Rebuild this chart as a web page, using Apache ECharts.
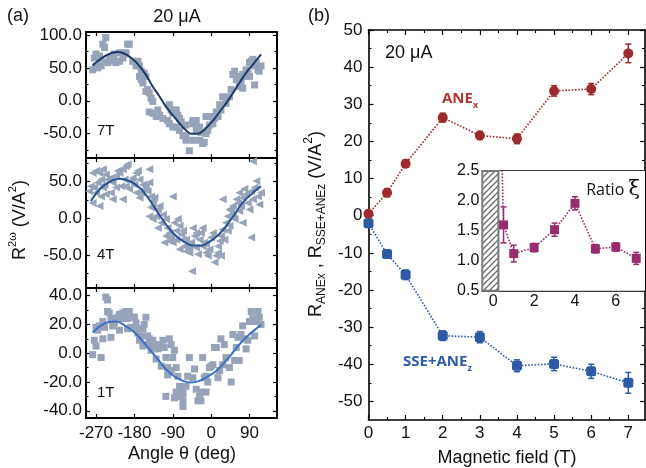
<!DOCTYPE html>
<html>
<head>
<meta charset="utf-8">
<script src="https://cdn.jsdelivr.net/npm/echarts@6/dist/echarts.min.js"></script>
<style>
  html, body { margin: 0; padding: 0; background: #fff; }
  #main { width: 646px; height: 468px; }
</style>
</head>
<body>
<div id="main"></div>
<script>
// ---- panel (a): angle scans ----
var angleTicks = [-270, -180, -90, 0, 90];
var ticks7T = [-50, 0, 50, 100], minor7T = [-75, -25, 25, 75];
var ticks4T = [-50, 0, 50], minor4T = [-75, -25, 25, 75];
var ticks1T = [-40, -20, 0, 20, 40], minor1T = [-30, -10, 10, 30];

var pts7T = [[-247,96],[-254,86],[-250,81],[-270,71],[-274,65],[-262,68],[-258,63],[-239,65],[-235,60],[-231,63],[-223,58],[-215,60],[-207,65],[-200,71],[-196,86],[-192,86],[-200,73],[-184,60],[-176,58],[-172,60],[-168,53],[-270,53],[-266,50],[-258,53],[-243,58],[-227,71],[-215,73],[-278,47],[-176,53],[-164,45],[-157,42],[-153,37],[-168,37],[-164,32],[-160,27],[-149,17],[-145,12],[-153,14],[-141,4],[-137,-1],[-145,-17],[-137,-19],[-129,-24],[-121,-22],[-125,-14],[-113,-27],[-102,-30],[-98,-6],[-94,-14],[-90,-19],[-82,-14],[-78,-22],[-74,-27],[-70,-32],[-98,-35],[-90,-40],[-82,-40],[-74,-45],[-66,-53],[-59,-55],[-59,-60],[-51,-76],[-43,-60],[-35,-45],[-43,-35],[-35,-30],[-27,-40],[-24,-48],[-20,-65],[-16,-63],[-12,-50],[-8,-45],[-4,-37],[0,-24],[4,-35],[8,-27],[12,-17],[16,-24],[20,-6],[23,-14],[27,6],[35,-4],[43,6],[47,17],[51,40],[55,45],[59,32],[63,37],[66,22],[70,29],[74,40],[78,37],[82,47],[86,42],[90,58],[94,60],[98,63],[102,53],[102,24],[106,58],[110,47],[113,45],[117,53],[90,37],[74,19],[-27,-60],[-12,-24],[-59,-37],[-43,-30]];
var fit7T = [[-278,53.6],[-246,69],[-219,74],[-196,69],[-176,58.7],[-156,42.3],[-137,21.8],[-121,6.4],[-106,-9],[-90,-21.8],[-74,-34.6],[-59,-44.9],[-47,-50],[-31,-50],[-16,-43.9],[4,-30.5],[20,-16.7],[35,-3.9],[51,11.5],[66,26.9],[82,42.3],[98,55.1],[117,70.5]];

var pts4T = [[-278,62],[-270,65],[-262,62],[-254,67],[-247,60],[-258,53],[-266,49],[-282,44],[-274,42],[-286,37],[-270,35],[-254,42],[-250,46],[-243,53],[-235,55],[-231,49],[-223,58],[-219,65],[-215,62],[-207,67],[-200,71],[-196,74],[-203,53],[-211,44],[-223,42],[-200,44],[-188,51],[-184,55],[-180,46],[-176,62],[-172,65],[-168,53],[-160,46],[-157,40],[-153,44],[-149,37],[-145,49],[-164,35],[-207,26],[-235,35],[-258,30],[-262,17],[-278,21],[-231,26],[-247,33],[-192,40],[-176,35],[-141,30],[-137,24],[-141,15],[-145,3],[-137,-1],[-129,3],[-125,12],[-121,17],[-133,28],[-117,-6],[-125,-13],[-113,5],[-106,-1],[-102,-13],[-98,-20],[-106,-24],[-94,-26],[-90,-33],[-82,-17],[-86,-6],[-78,-1],[-90,30],[-74,-10],[-70,-22],[-66,-29],[-63,-38],[-59,-45],[-55,-40],[-51,-47],[-47,-33],[-43,-13],[-39,-24],[-35,-40],[-31,-49],[-27,-29],[-24,-20],[-20,-13],[-16,-33],[-12,-47],[-8,-51],[-4,-42],[0,-26],[4,-20],[8,-60],[12,-51],[16,-38],[20,-31],[23,-24],[27,-15],[31,-29],[35,-6],[39,3],[43,-10],[47,10],[51,17],[55,-1],[59,26],[63,21],[66,35],[70,17],[74,28],[78,40],[82,33],[86,21],[90,12],[94,37],[98,26],[102,42],[106,51],[110,30],[113,19],[117,35],[98,78],[94,-26],[-45,-72],[-66,-17],[-82,-29],[-98,-31],[-59,-29],[-35,-20],[-20,-38],[16,-47],[23,-51],[39,-17],[51,5],[66,10],[27,26],[74,-6],[43,12],[-168,28],[-137,17],[-110,-33],[-74,-42],[-51,-38],[-12,-35],[-145,67]];
var fit4T = [[-282,23.6],[-262,39.5],[-239,49.5],[-215,54],[-192,51],[-168,42],[-145,26],[-125,7.7],[-106,-8],[-86,-22],[-66,-31],[-43,-37],[-23,-37],[-4,-32],[16,-23],[35,-10.5],[55,5.5],[74,21.4],[98,35],[117,44]];

var pts1T = [[-247,39],[-243,37],[-239,28],[-235,24],[-254,22],[-262,19],[-270,18],[-266,16],[-274,9],[-270,5],[-278,-1],[-258,-3],[-254,10],[-235,11],[-231,19],[-227,21],[-223,24],[-215,27],[-219,25],[-211,24],[-207,28],[-203,26],[-200,29],[-196,24],[-192,29],[-188,18],[-184,25],[-180,25],[-176,21],[-172,14],[-168,9],[-164,12],[-160,17],[-157,20],[-153,25],[-149,6],[-145,10],[-141,2],[-137,9],[-133,5],[-125,3],[-121,6],[-113,9],[-110,4],[-106,-3],[-102,-10],[-98,10],[-94,6],[-90,-3],[-86,2],[-82,-10],[-78,-16],[-74,-23],[-70,-25],[-82,-27],[-86,-31],[-78,-30],[-74,-30],[-66,-28],[-59,-23],[-55,-16],[-51,-3],[-43,-17],[-39,-11],[-35,-25],[-31,-33],[-27,-30],[-24,-33],[-20,-3],[-16,-17],[-12,-16],[-8,-20],[-4,-10],[0,-9],[4,-8],[8,4],[12,4],[16,-17],[20,-12],[23,10],[27,-8],[31,6],[35,-3],[43,-10],[47,-20],[51,13],[55,-5],[59,4],[63,11],[66,-5],[70,13],[74,19],[78,10],[82,3],[86,9],[90,22],[94,29],[98,24],[102,12],[106,22],[110,29],[113,25],[117,20],[-66,-33],[-106,-30],[-129,-4],[-117,-9],[-12,-27],[-24,-27],[-102,-15],[-94,-12],[-149,12],[-160,5],[-176,17],[-196,17],[-215,16],[-243,29],[-250,18],[-66,-37]];
var fit1T = [[-278,14.3],[-258,19.4],[-239,21.7],[-223,22],[-203,19.4],[-184,15.5],[-164,9.7],[-145,2.8],[-125,-4.2],[-106,-11.1],[-86,-16.2],[-66,-19.2],[-47,-20.3],[-27,-19.2],[-8,-16.2],[12,-12.3],[31,-6.5],[51,0.5],[70,7.4],[90,13.2],[106,17.1],[117,19.6]];

// ---- panel (b): field dependence ----
var fieldT = [0, 0.5, 1, 2, 3, 4, 5, 6, 7];
var aneX = [0.5, 6.2, 14.0, 26.4, 21.6, 20.7, 33.6, 34.1, 43.7];
var aneXErr = [0.5, 1.1, 1.0, 1.2, 1.1, 1.3, 1.4, 1.5, 2.5];
var sseZ = [-2.0, -10.3, -15.9, -32.3, -32.7, -40.4, -39.9, -41.9, -45.0];
var sseZErr = [0.5, 1.1, 1.3, 1.3, 1.5, 1.6, 1.8, 1.9, 2.8];
var fieldTicks = [0, 1, 2, 3, 4, 5, 6, 7], fieldMinor = [0.5, 1.5, 2.5, 3.5, 4.5, 5.5, 6.5];
var rTicks = [-50, -40, -30, -20, -10, 0, 10, 20, 30, 40, 50];
var rMinor = [-45, -35, -25, -15, -5, 5, 15, 25, 35, 45];

// inset: ratio xi
var ratioT = [0, 0.5, 1, 2, 3, 4, 5, 6, 7];
var ratio = [8.5, 1.60, 1.12, 1.22, 1.52, 1.96, 1.20, 1.23, 1.04];
var ratioErr = [0, 0.30, 0.14, 0.07, 0.11, 0.11, 0.07, 0.07, 0.10];
var insetXTicks = [0, 2, 4, 6], insetXMinor = [1, 3, 5, 7];
var insetYTicks = [0.5, 1.0, 1.5, 2.0, 2.5], insetYMinor = [0.75, 1.25, 1.75, 2.25];
var hatchBand = [-0.54, 0.25, 0.5, 2.5];

var GREY = '#97a3b8', RED = '#9c2a2c', BLUE = '#2c5aa5', MAG = '#982d6d';
var AX = 'Liberation Sans, Arial, sans-serif';

var myChart = echarts.init(document.getElementById('main'), null, {renderer: 'canvas'});

var xAxes = [], yAxes = [];
// main axis pair (labels on first side) + minor-tick pair, returns index of labelled axis
function addAxes(list, dim, gi, min, max, major, minor, o) {
  var pos = dim === 'x' ? ['bottom', 'top'] : ['left', 'right'];
  var first = list.length;
  pos.forEach(function (p, k) {
    list.push({
      gridIndex: gi, type: 'value', min: min, max: max, position: p,
      splitLine: {show: false},
      axisLine: {show: true, onZero: false, lineStyle: {color: '#000', width: o.lw}},
      axisTick: {show: true, inside: true, length: o.tl, customValues: major, lineStyle: {color: '#000', width: 1.2}},
      axisLabel: (k === 0 && o.fmt) ? {
        show: true, customValues: major, formatter: o.fmt, fontSize: o.fs,
        fontFamily: AX, color: '#111', margin: o.margin
      } : {show: false}
    });
  });
  if (minor) {
    pos.forEach(function (p) {
      list.push({
        gridIndex: gi, type: 'value', min: min, max: max, position: p,
        splitLine: {show: false},
        axisLine: {show: false, onZero: false},
        axisTick: {show: true, inside: true, length: o.ml, customValues: minor, lineStyle: {color: '#000', width: 1.1}},
        axisLabel: {show: false}
      });
    });
  }
  return first;
}

var fmt1 = function (v) { return v.toFixed(1); };
var fmt0 = function (v) { return String(v); };
var leftX = {lw: 2, tl: 4, ml: 2.5, fs: 17, margin: 7, fmt: null};
var leftXLab = {lw: 2, tl: 4, ml: 2.5, fs: 17, margin: 7, fmt: fmt0};
var leftY = {lw: 2, tl: 4, ml: 2.5, fs: 17, margin: 4, fmt: fmt1};

var gx = [], gy = [];
gx[0] = addAxes(xAxes, 'x', 0, -293.5, 154.5, angleTicks, null, leftX);
gy[0] = addAxes(yAxes, 'y', 0, -87, 104.5, ticks7T, minor7T, leftY);
gx[1] = addAxes(xAxes, 'x', 1, -293.5, 154.5, angleTicks, null, leftX);
gy[1] = addAxes(yAxes, 'y', 1, -95, 82.4, ticks4T, minor4T, leftY);
gx[2] = addAxes(xAxes, 'x', 2, -293.5, 154.5, angleTicks, null, leftXLab);
gy[2] = addAxes(yAxes, 'y', 2, -45, 45.3, ticks1T, minor1T, leftY);
gx[3] = addAxes(xAxes, 'x', 3, 0, 7.45, fieldTicks, fieldMinor, {lw: 1.6, tl: 5, ml: 3, fs: 17, margin: 5, fmt: fmt0});
gy[3] = addAxes(yAxes, 'y', 3, -55, 50, rTicks, rMinor, {lw: 1.6, tl: 5, ml: 3, fs: 17, margin: 6, fmt: fmt0});
gx[4] = addAxes(xAxes, 'x', 4, -0.54, 7.43, insetXTicks, insetXMinor, {lw: 1.6, tl: 4, ml: 3, fs: 16, margin: 3, fmt: fmt0});
gy[4] = addAxes(yAxes, 'y', 4, 0.5, 2.5, insetYTicks, insetYMinor, {lw: 1.6, tl: 4, ml: 2.5, fs: 16, margin: 3, fmt: fmt1});

// hatch pattern for the excluded low-field band
var hatch = document.createElement('canvas');
hatch.width = 6; hatch.height = 6;
var hc = hatch.getContext('2d');
hc.fillStyle = '#fff'; hc.fillRect(0, 0, 6, 6);
hc.strokeStyle = '#6a6a6a'; hc.lineWidth = 1.3;
hc.beginPath();
hc.moveTo(-1, 7); hc.lineTo(7, -1);
hc.moveTo(-1, 1); hc.lineTo(1, -1);
hc.moveTo(5, 7); hc.lineTo(7, 5);
hc.stroke();

function errBars(gi, xs, ys, es, color, cap, z) {
  var d = [];
  xs.forEach(function (x, i) { if (es[i] > 0) d.push([x, ys[i] - es[i], ys[i] + es[i]]); });
  return {
    type: 'custom', xAxisIndex: gx[gi], yAxisIndex: gy[gi], z: z, data: d,
    renderItem: function (params, api) {
      var lo = api.coord([api.value(0), api.value(1)]);
      var hi = api.coord([api.value(0), api.value(2)]);
      var st = {stroke: color, lineWidth: 1.5};
      return {type: 'group', children: [
        {type: 'line', shape: {x1: lo[0], y1: lo[1], x2: hi[0], y2: hi[1]}, style: st},
        {type: 'line', shape: {x1: lo[0] - cap, y1: lo[1], x2: lo[0] + cap, y2: lo[1]}, style: st},
        {type: 'line', shape: {x1: hi[0] - cap, y1: hi[1], x2: hi[0] + cap, y2: hi[1]}, style: st}
      ]};
    }
  };
}

function pairs(xs, ys) { return xs.map(function (x, i) { return [x, ys[i]]; }); }

var series = [];
[[pts7T, fit7T, '#1d3a6b', 'rect', 0], [pts4T, fit4T, '#2b5297', 'triangle', 90], [pts1T, fit1T, '#3a70c6', 'rect', 0]].forEach(function (s, g) {
  series.push({
    type: 'scatter', xAxisIndex: gx[g], yAxisIndex: gy[g], data: s[0],
    symbol: s[3], symbolRotate: s[4], symbolSize: s[3] === 'rect' ? 7 : 8,
    itemStyle: {color: GREY, opacity: 1}, z: 2, silent: true
  });
  series.push({
    type: 'line', xAxisIndex: gx[g], yAxisIndex: gy[g], data: s[1], smooth: 0.4,
    symbol: 'none', lineStyle: {color: s[2], width: 2}, z: 3, silent: true
  });
});

// main panel
series.push({
  type: 'line', xAxisIndex: gx[3], yAxisIndex: gy[3], data: pairs(fieldT, sseZ),
  symbol: 'roundRect', symbolSize: 10, itemStyle: {color: BLUE},
  lineStyle: {color: BLUE, width: 1.6, type: 'dotted'}, z: 4
});
series.push(errBars(3, fieldT, sseZ, sseZErr, BLUE, 3, 4));
series.push({
  type: 'line', xAxisIndex: gx[3], yAxisIndex: gy[3], data: pairs(fieldT, aneX),
  symbol: 'circle', symbolSize: 10, itemStyle: {color: RED},
  lineStyle: {color: RED, width: 1.6, type: 'dotted'}, z: 5
});
series.push(errBars(3, fieldT, aneX, aneXErr, RED, 3, 5));

// inset
series.push({
  type: 'custom', xAxisIndex: gx[4], yAxisIndex: gy[4], z: 6, data: [hatchBand],
  renderItem: function (params, api) {
    var a = api.coord([api.value(0), api.value(3)]);
    var b = api.coord([api.value(1), api.value(2)]);
    return {type: 'rect', shape: {x: a[0], y: a[1], width: b[0] - a[0], height: b[1] - a[1]},
      style: {fill: {image: hatch, repeat: 'repeat'}, stroke: '#7a7a7a', lineWidth: 2}};
  }
});
series.push({
  type: 'line', xAxisIndex: gx[4], yAxisIndex: gy[4],
  data: ratioT.map(function (x, i) {
    return i === 0 ? {value: [x, ratio[i]], symbol: 'none'} : [x, ratio[i]];
  }),
  symbol: 'rect', symbolSize: 9, itemStyle: {color: MAG},
  lineStyle: {color: MAG, width: 1.6, type: 'dotted'}, z: 7
});
series.push(errBars(4, ratioT, ratio, ratioErr, MAG, 3, 7));

// text with sub/superscripts, measured so pieces sit side by side
var mctx = document.createElement('canvas').getContext('2d');
function richText(parts, x, y, rot, align) {
  var widths = parts.map(function (p) {
    mctx.font = (p.w || 'normal') + ' ' + p.s + 'px ' + (p.f || AX);
    return mctx.measureText(p.t).width;
  });
  var total = widths.reduce(function (a, b) { return a + b; }, 0);
  var cx = align === 'center' ? -total / 2 : (align === 'right' ? -total : 0);
  var kids = parts.map(function (p, i) {
    var el = {
      type: 'text', x: cx, y: p.dy || 0, z: 100,
      style: {
        text: p.t, font: (p.w || 'normal') + ' ' + p.s + 'px ' + (p.f || AX),
        fill: p.c || '#111', align: 'left', verticalAlign: 'middle',
        textAlign: 'left', textVerticalAlign: 'middle'
      }
    };
    cx += widths[i];
    return el;
  });
  return {type: 'group', x: x, y: y, z: 100, rotation: rot || 0, children: kids};
}

var OS = 'Open Sans, sans-serif';
var graphics = [
  richText([{t: '(a)', s: 18}], 18, 16, 0, 'center'),
  richText([{t: '20 μA', s: 18}], 177, 17, 0, 'center'),
  richText([{t: '(b)', s: 18}], 319, 16, 0, 'center'),
  richText([{t: '20 μA', s: 18}], 385, 53, 0, 'left'),
  richText([{t: '7T', s: 15}], 97, 131, 0, 'left'),
  richText([{t: '4T', s: 15}], 97, 255, 0, 'left'),
  richText([{t: '1T', s: 15}], 97, 393, 0, 'left'),
  richText([{t: 'ANE', s: 15, w: 'bold', f: OS, c: '#b03535'}, {t: 'x', s: 9, w: 'bold', f: OS, c: '#b03535', dy: 6}], 442, 99, 0, 'left'),
  richText([{t: 'SSE+ANE', s: 15, w: 'bold', f: OS, c: '#2f5ca8'}, {t: 'z', s: 9, w: 'bold', f: OS, c: '#2f5ca8', dy: 6}], 403, 362, 0, 'left'),
  richText([{t: 'Ratio ', s: 16, f: OS}, {t: 'ξ', s: 21, f: 'DejaVu Serif, serif'}], 640, 190, 0, 'right'),
  richText([{t: 'Angle θ (deg)', s: 18}], 182, 454, 0, 'center'),
  richText([{t: 'Magnetic field (T)', s: 18}], 507, 458, 0, 'center'),
  richText([{t: 'R', s: 18}, {t: '2ω', s: 11, dy: -7}, {t: ' (V/A', s: 18}, {t: '2', s: 11, dy: -7}, {t: ')', s: 18}], 20, 220, Math.PI / 2, 'center'),
  richText([{t: 'R', s: 18}, {t: 'ANEx', s: 12, dy: 6}, {t: ' , ', s: 18}, {t: 'R', s: 18}, {t: 'SSE+ANEz', s: 12, dy: 6},
            {t: ' (V/A', s: 18}, {t: '2', s: 12, dy: -7}, {t: ')', s: 18}], 316, 224, Math.PI / 2, 'center')
];

var option = {
  backgroundColor: '#fff',
  animation: false,
  grid: [
    {left: 86, top: 32, width: 191, height: 126},
    {left: 86, top: 158, width: 191, height: 130},
    {left: 86, top: 288, width: 191, height: 130},
    {left: 368.5, top: 30, width: 276.5, height: 390},
    {left: 482.3, top: 171, width: 162.7, height: 119.7, show: true, backgroundColor: '#fff', borderWidth: 0, z: 3}
  ],
  xAxis: xAxes,
  yAxis: yAxes,
  series: series,
  graphic: graphics
};
myChart.setOption(option);
</script>
</body>
</html>
